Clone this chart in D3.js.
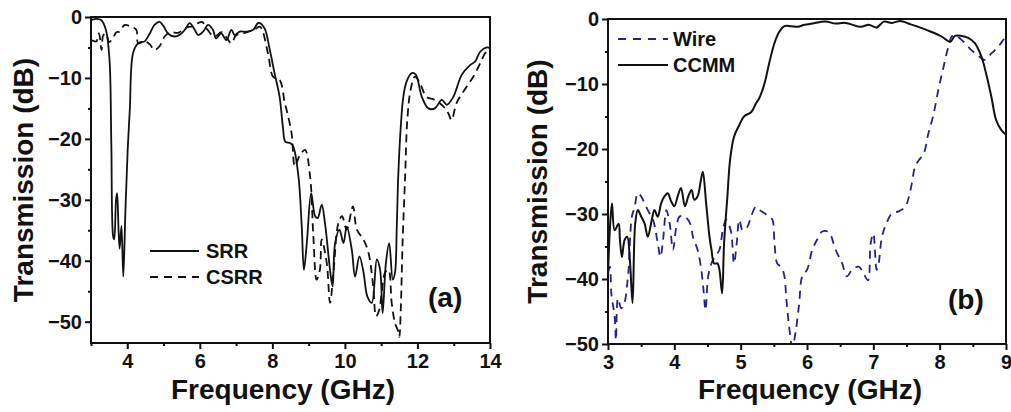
<!DOCTYPE html>
<html><head><meta charset="utf-8">
<script src="https://cdn.jsdelivr.net/npm/d3@7/dist/d3.min.js"></script>
<style>
html,body{margin:0;padding:0;background:#fff;}
svg{display:block;}
text{font-family:"Liberation Sans",Arial,sans-serif;font-weight:bold;fill:#111;}
</style></head>
<body>
<svg id="c" width="1011" height="412"></svg>
<script>
// ---------- DATA ----------
const xTicksA = [4, 6, 8, 10, 12, 14];
const xMinorA = [3, 5, 7, 9, 11, 13];
const yTicks = [0, -10, -20, -30, -40, -50];
const yMinor = [-5, -15, -25, -35, -45];
const xTicksB = [3, 4, 5, 6, 7, 8, 9];
const xMinorB = [3.5, 4.5, 5.5, 6.5, 7.5, 8.5];

const srr = [[3.0,-0.5],[3.15,-0.3],[3.28,-0.5],[3.41,-2.1],[3.51,-7],[3.56,-20.7],[3.61,-36],[3.64,-36.5],[3.69,-30],[3.72,-28.9],[3.76,-35],[3.79,-38],[3.84,-34.3],[3.89,-42.6],[3.95,-31.6],[4.01,-22],[4.07,-15.2],[4.16,-5.9],[4.30,-4.3],[4.40,-4.1],[4.48,-4.0],[4.62,-2.7],[4.75,-1.3],[4.89,-0.8],[5.0,-1.5],[5.12,-2.7],[5.31,-3.2],[5.49,-2.7],[5.60,-2.0],[5.72,-1.0],[5.86,-2.1],[5.95,-2.95],[6.09,-2.4],[6.23,-1.3],[6.36,-2.1],[6.45,-3.5],[6.59,-2.7],[6.73,-3.8],[6.87,-2.1],[6.96,-2.95],[7.10,-2.4],[7.28,-2.4],[7.47,-2.1],[7.60,-1.0],[7.66,-1.0],[7.79,-1.9],[7.93,-5.4],[8.06,-9.2],[8.20,-13.1],[8.29,-18],[8.36,-20.5],[8.50,-20.7],[8.58,-21.3],[8.72,-26.2],[8.81,-34.4],[8.87,-41.5],[8.95,-37.1],[9.07,-28.9],[9.18,-32.7],[9.25,-33],[9.36,-30.8],[9.45,-33.8],[9.59,-41.5],[9.66,-44.2],[9.73,-37.1],[9.85,-34.9],[9.96,-37.1],[10.05,-34.4],[10.19,-38.2],[10.28,-42.6],[10.40,-39.3],[10.51,-41.8],[10.62,-45.9],[10.74,-46.9],[10.88,-39.8],[10.97,-41.5],[11.04,-48.6],[11.13,-40.4],[11.22,-37.1],[11.32,-43.1],[11.38,-42],[11.43,-34.4],[11.47,-26.2],[11.54,-18],[11.61,-13.1],[11.70,-10.6],[11.84,-9.2],[11.95,-9.4],[12.12,-13.1],[12.30,-15.0],[12.48,-15.0],[12.67,-13.6],[12.81,-14.4],[12.99,-13.1],[13.22,-9.5],[13.45,-7.9],[13.59,-7.3],[13.73,-5.7],[13.91,-5.0],[14.0,-5.1]];

const csrr = [[3.0,-3.8],[3.1,-4.0],[3.15,-4.0],[3.22,-2.7],[3.29,-5.4],[3.34,-3.0],[3.42,-2.8],[3.5,-4.1],[3.6,-3.5],[3.7,-2.5],[3.79,-2.4],[3.93,-1.3],[4.1,-1.6],[4.25,-2.1],[4.3,-4.3],[4.48,-4.0],[4.62,-4.5],[4.75,-5.4],[4.89,-4.8],[5.03,-3.2],[5.2,-2.5],[5.4,-2.6],[5.6,-1.8],[5.8,-1.5],[6.06,-0.8],[6.2,-2.0],[6.4,-3.2],[6.6,-2.5],[6.75,-3.5],[6.87,-4.3],[7.0,-3.0],[7.2,-2.7],[7.4,-2.3],[7.5,-2.1],[7.66,-1.6],[7.88,-6.0],[8.02,-9.8],[8.2,-10.3],[8.34,-14.1],[8.39,-15.2],[8.53,-19.1],[8.62,-24.5],[8.74,-22.9],[8.90,-21.8],[9.04,-26.2],[9.13,-36],[9.22,-43.1],[9.31,-41.5],[9.36,-36.5],[9.50,-40.4],[9.59,-46.9],[9.69,-41.5],[9.82,-33.8],[9.92,-32.7],[10.05,-34.9],[10.22,-31.1],[10.33,-34.9],[10.51,-36.5],[10.65,-38.7],[10.78,-44.2],[10.86,-49.1],[10.95,-48],[11.01,-45.4],[11.11,-41.9],[11.2,-41.5],[11.29,-46.9],[11.38,-50.2],[11.47,-51.6],[11.50,-52.5],[11.54,-48],[11.59,-37],[11.66,-26.2],[11.72,-16.9],[11.81,-12],[11.93,-9.8],[12.07,-10.9],[12.25,-13.1],[12.48,-13.6],[12.72,-14.7],[12.85,-15.8],[12.94,-16.9],[13.08,-14.1],[13.36,-11.4],[13.54,-9.8],[13.73,-7.6],[13.86,-6.0],[14.0,-5.1]];

const wire = [[3.0,-39],[3.03,-38.1],[3.05,-42.2],[3.1,-45.8],[3.12,-49.4],[3.15,-43],[3.2,-44.5],[3.25,-43.6],[3.29,-40.7],[3.31,-38.6],[3.36,-30.4],[3.4,-29],[3.45,-26.8],[3.5,-27.3],[3.55,-28.3],[3.6,-29.4],[3.68,-30.9],[3.75,-34.5],[3.79,-36.6],[3.83,-34],[3.88,-29.4],[3.93,-31.5],[3.98,-35.5],[4.03,-32],[4.08,-30.4],[4.16,-30.4],[4.24,-31.5],[4.28,-33.5],[4.35,-35.5],[4.4,-38.1],[4.44,-41.7],[4.47,-44.8],[4.51,-39.6],[4.56,-37.6],[4.61,-36.6],[4.68,-35.5],[4.73,-32.5],[4.78,-30.9],[4.85,-32.5],[4.9,-37.6],[4.94,-34.5],[4.98,-30.9],[5.03,-32.5],[5.1,-32],[5.15,-30.6],[5.23,-28.9],[5.29,-29.4],[5.36,-29.9],[5.43,-30.4],[5.48,-30.9],[5.51,-34.5],[5.55,-37.6],[5.6,-38.1],[5.65,-39.1],[5.69,-43.2],[5.73,-47.3],[5.78,-50.5],[5.83,-48],[5.88,-44],[5.93,-39.5],[6.0,-38.6],[6.08,-35.5],[6.15,-34],[6.23,-32.7],[6.33,-32.8],[6.43,-35.5],[6.53,-37.6],[6.6,-39.6],[6.68,-38.6],[6.78,-38.1],[6.85,-39.1],[6.92,-40.2],[6.96,-34.5],[7.0,-33],[7.05,-38.6],[7.08,-37.6],[7.13,-33.5],[7.2,-31.4],[7.28,-29.9],[7.38,-29.6],[7.48,-28.9],[7.56,-26.3],[7.63,-22.7],[7.68,-21.8],[7.76,-20.7],[7.83,-17.6],[7.9,-15],[7.98,-10.9],[8.06,-7.3],[8.13,-4.3],[8.18,-2.7],[8.23,-2.5],[8.36,-3.5],[8.48,-4.8],[8.6,-5.8],[8.68,-6.3],[8.78,-5.3],[8.88,-4.3],[8.96,-3.2],[9.0,-2.7]];

const ccmm = [[3.0,-39.6],[3.03,-32],[3.06,-28.4],[3.1,-32.5],[3.16,-31.5],[3.18,-34],[3.21,-36.6],[3.25,-34],[3.29,-33.5],[3.33,-37.1],[3.37,-43.7],[3.41,-31.5],[3.45,-29.4],[3.5,-30.4],[3.55,-31.4],[3.6,-33.5],[3.66,-30.9],[3.7,-29.4],[3.75,-30.4],[3.8,-28.4],[3.85,-27.3],[3.9,-26.8],[3.95,-28],[4.0,-28.8],[4.05,-27.3],[4.1,-26],[4.16,-28.8],[4.21,-27.3],[4.26,-26.3],[4.3,-27.8],[4.35,-27.3],[4.4,-24.8],[4.43,-23.5],[4.48,-28.4],[4.53,-33.5],[4.56,-35.5],[4.6,-37.6],[4.65,-37.6],[4.68,-38.6],[4.72,-42.2],[4.75,-34.5],[4.8,-27.3],[4.84,-21.7],[4.9,-18.1],[4.98,-16.3],[5.05,-15],[5.16,-14.3],[5.23,-13],[5.28,-12.2],[5.36,-9.9],[5.43,-6.8],[5.51,-3.7],[5.58,-2.0],[5.66,-1.1],[5.76,-1.1],[5.86,-1.2],[5.96,-0.9],[6.08,-0.7],[6.28,-0.4],[6.43,-0.7],[6.58,-0.6],[6.81,-1.2],[6.93,-0.9],[7.05,-1.3],[7.16,-0.4],[7.28,-0.6],[7.41,-0.3],[7.53,-0.7],[7.73,-1.4],[7.88,-2.0],[8.03,-2.7],[8.16,-3.5],[8.23,-2.6],[8.33,-2.6],[8.43,-2.9],[8.53,-3.7],[8.63,-5.8],[8.7,-8.4],[8.78,-12],[8.85,-15.5],[8.93,-17.1],[9.0,-17.8]];

const legendA = ["SRR", "CSRR"];
const legendB = ["Wire", "CCMM"];
const xTitle = "Frequency (GHz)";
const yTitle = "Transmission (dB)";

// ---------- DRAW ----------
const svg = d3.select("#c");
svg.append("rect").attr("width",1011).attr("height",412).attr("fill","#fff");

function panel(cfg){
  const g = svg.append("g");
  const x = d3.scaleLinear().domain(cfg.xdom).range([cfg.x0, cfg.x1]);
  const y = d3.scaleLinear().domain(cfg.ydom).range([cfg.y1, cfg.y0]);

  const clipId = "clip" + cfg.id;
  svg.append("clipPath").attr("id", clipId).append("rect")
    .attr("x", cfg.x0).attr("y", cfg.y0).attr("width", cfg.x1-cfg.x0).attr("height", cfg.y1-cfg.y0);

  // minor ticks
  g.append("g").attr("transform",`translate(0,${cfg.y1})`)
    .call(d3.axisBottom(x).tickValues(cfg.xMinor).tickSize(3).tickFormat("").tickSizeOuter(0))
    .call(s=>s.select(".domain").remove())
    .call(s=>s.selectAll("line").attr("stroke","#111").attr("stroke-width",2));
  g.append("g").attr("transform",`translate(${cfg.x0},0)`)
    .call(d3.axisLeft(y).tickValues(yMinor).tickSize(3).tickFormat("").tickSizeOuter(0))
    .call(s=>s.select(".domain").remove())
    .call(s=>s.selectAll("line").attr("stroke","#111").attr("stroke-width",2));
  // major
  const xa = g.append("g").attr("transform",`translate(0,${cfg.y1})`)
    .call(d3.axisBottom(x).tickValues(cfg.xTicks).tickSize(6).tickPadding(5).tickSizeOuter(0).tickFormat(d3.format("d")));
  const ya = g.append("g").attr("transform",`translate(${cfg.x0},0)`)
    .call(d3.axisLeft(y).tickValues(yTicks).tickSize(6).tickPadding(3).tickSizeOuter(0).tickFormat(d3.format("d")));
  [xa, ya].forEach(a=>{
    a.select(".domain").remove();
    a.selectAll("line").attr("stroke","#111").attr("stroke-width",2);
    a.selectAll("text").attr("font-size",20).attr("font-family","Liberation Sans, Arial, sans-serif").attr("font-weight","bold").attr("fill","#111");
  });

  // series
  const line = d3.line().x(d=>x(d[0])).y(d=>y(d[1])).curve(d3.curveCatmullRom.alpha(0.5));
  cfg.series.forEach(s=>{
    g.append("path").datum(s.data).attr("d", line)
      .attr("fill","none").attr("stroke", s.color).attr("stroke-width", s.w)
      .attr("stroke-dasharray", s.dash || null).attr("stroke-linejoin","round")
      .attr("clip-path", `url(#${clipId})`);
  });

  // frame
  g.append("rect").attr("x",cfg.x0).attr("y",cfg.y0).attr("width",cfg.x1-cfg.x0).attr("height",cfg.y1-cfg.y0)
    .attr("fill","none").attr("stroke","#111").attr("stroke-width",2);

  // legend
  cfg.legend.forEach((L,i)=>{
    const ly = cfg.legY[i];
    g.append("line").attr("x1",cfg.legX0).attr("x2",cfg.legX1).attr("y1",ly).attr("y2",ly)
      .attr("stroke",L.color).attr("stroke-width",L.w).attr("stroke-dasharray",L.dash||null);
    g.append("text").attr("x",cfg.legTX).attr("y",ly).attr("dy","0.36em").attr("font-size",20).text(L.name);
  });

  // panel label
  g.append("text").attr("x",cfg.labX).attr("y",cfg.labY).attr("font-size",28).text(cfg.label);

  // titles
  g.append("text").attr("x",cfg.xtX).attr("y",399).attr("text-anchor","middle").attr("font-size",28).text(xTitle);
  g.append("text").attr("transform",`translate(${cfg.ytX},${(cfg.y0+cfg.y1)/2}) rotate(-90)`)
    .attr("text-anchor","middle").attr("font-size",28).text(yTitle);
}

panel({
  id:"a", xdom:[3,14], ydom:[-53.5,0], x0:91, x1:490, y0:17, y1:343,
  xTicks:xTicksA, xMinor:xMinorA,
  series:[
    {data:csrr, color:"#111", w:1.8, dash:"8,5"},
    {data:srr, color:"#111", w:1.8}
  ],
  legend:[{name:legendA[0],color:"#111",w:1.8},{name:legendA[1],color:"#111",w:1.8,dash:"8,6"}],
  legX0:150, legX1:199, legTX:206, legY:[251,277],
  label:"(a)", labX:428, labY:307, xtX:283, ytX:33
});

panel({
  id:"b", xdom:[3,9], ydom:[-50,0], x0:608, x1:1006, y0:19, y1:344,
  xTicks:xTicksB, xMinor:xMinorB,
  series:[
    {data:wire, color:"#22228c", w:1.8, dash:"8,6"},
    {data:ccmm, color:"#111", w:2}
  ],
  legend:[{name:legendB[0],color:"#22228c",w:1.8,dash:"8,7"},{name:legendB[1],color:"#111",w:2}],
  legX0:618, legX1:668, legTX:673, legY:[39,65],
  label:"(b)", labX:948, labY:309, xtX:810, ytX:547
});
</script>
</body></html>
